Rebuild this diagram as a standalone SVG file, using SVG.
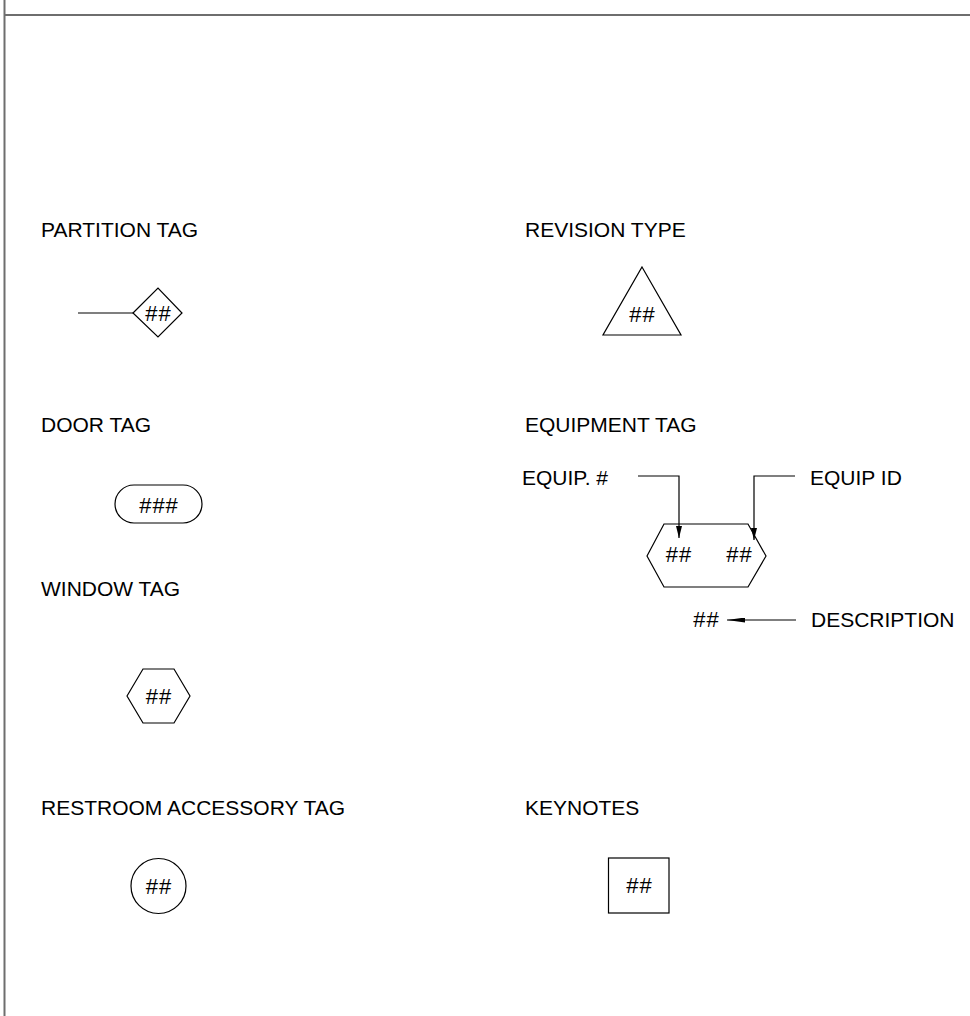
<svg xmlns="http://www.w3.org/2000/svg" width="970" height="1016" viewBox="0 0 970 1016">
<defs>
<style>
.t{font-family:"Liberation Sans",Arial,sans-serif;font-size:21px;fill:#000}
.h{font-family:"Liberation Sans",Arial,sans-serif;font-size:22px;letter-spacing:1px;fill:#000;text-anchor:middle}
.s{fill:none;stroke:#000;stroke-width:1.2}
.f{stroke:#6e6e6e;stroke-width:2;fill:none}
.l{stroke:#000;stroke-width:1.2;fill:none}
</style>
<marker id="ah" viewBox="0 0 12 6" refX="12" refY="3" markerWidth="12" markerHeight="6" markerUnits="userSpaceOnUse" orient="auto">
<path d="M0,0 L12,3 L0,6 Z" fill="#000"/>
</marker>
<marker id="ahl" viewBox="0 0 18 5" refX="18" refY="2.5" markerWidth="18" markerHeight="5" markerUnits="userSpaceOnUse" orient="auto">
<path d="M0,0 L18,2.5 L0,5 Z" fill="#000"/>
</marker>
</defs>
<rect width="970" height="1016" fill="#fff"/>
<g id="frame">
<line class="f" x1="4.5" y1="0" x2="4.5" y2="1016"/>
<line class="f" x1="4" y1="15" x2="970" y2="15"/>
</g>
<g id="labels">
<text class="t" x="41" y="237">PARTITION TAG</text>
<text class="t" x="525" y="237">REVISION TYPE</text>
<text class="t" x="41" y="432">DOOR TAG</text>
<text class="t" x="525" y="432">EQUIPMENT TAG</text>
<text class="t" x="41" y="596">WINDOW TAG</text>
<text class="t" x="41" y="815">RESTROOM ACCESSORY TAG</text>
<text class="t" x="525" y="815">KEYNOTES</text>
</g>
<g id="partition-tag">
<polygon class="s" points="133,313 158,288 182,313 158,337"/>
<text class="h" x="158.5" y="321">##</text>
</g>
<g id="revision-type">
<polygon class="s" points="642,267 681,335 603,335"/>
<text class="h" x="642.5" y="322">##</text>
</g>
<g id="door-tag">
<rect class="s" x="115" y="485" width="87" height="38" rx="19" ry="19"/>
<text class="h" x="159" y="513">###</text>
</g>
<g id="equipment-tag">
<polygon class="s" points="647,556 664,524 748,524 766,556 748,587 664,587"/>
<text class="h" x="679" y="562">##</text>
<text class="h" x="739.5" y="562">##</text>
</g>
<g id="equip-num-label">
<text class="t" x="522" y="485">EQUIP. #</text>
</g>
<g id="equip-id-label">
<text class="t" x="810" y="485">EQUIP ID</text>
</g>
<g id="description">
<text class="h" x="706.5" y="627">##</text>
<text class="t" x="811" y="627">DESCRIPTION</text>
</g>
<g id="window-tag">
<polygon class="s" points="127,696 143,669 174,669 190,696 174,723 143,723"/>
<text class="h" x="159" y="704">##</text>
</g>
<g id="restroom-accessory-tag">
<circle class="s" cx="158.5" cy="886" r="27.5"/>
<text class="h" x="159" y="894">##</text>
</g>
<g id="keynotes">
<rect class="s" x="608.5" y="858" width="60.5" height="55"/>
<text class="h" x="639.5" y="893">##</text>
</g>
<g id="connectors">
<line class="l" x1="78" y1="313" x2="133" y2="313"/>
<polyline class="l" points="638,476 679,476 679,538" marker-end="url(#ah)"/>
<polyline class="l" points="795,476 754,476 754,540" marker-end="url(#ah)"/>
<line class="l" x1="796" y1="620" x2="727" y2="620" marker-end="url(#ahl)"/>
</g>
</svg>
